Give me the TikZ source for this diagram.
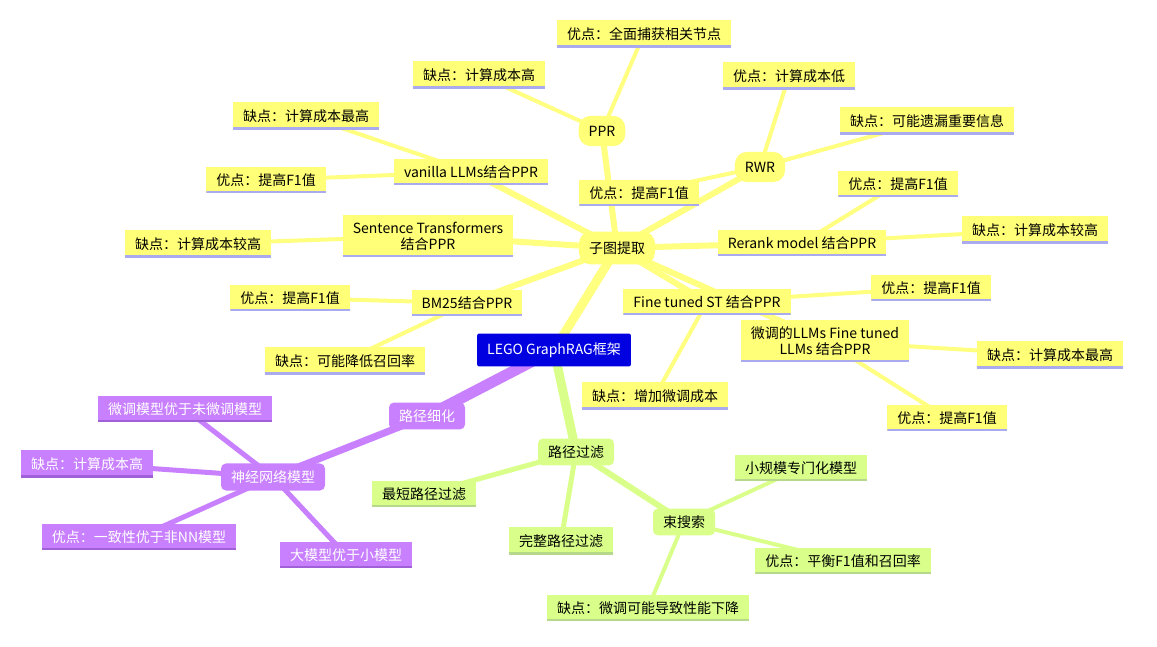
\documentclass[tikz,border=0pt]{standalone}
\usepackage{fontspec}
\setmainfont{Noto Sans CJK SC}
\usetikzlibrary{backgrounds}
\definecolor{yel}{HTML}{FFFF78}
\definecolor{yline}{HTML}{FFFF80}
\definecolor{ybot}{HTML}{AAAAEE}
\definecolor{grn}{HTML}{D9FF8A}
\definecolor{gbot}{HTML}{B5D88A}
\definecolor{pur}{HTML}{C880FF}
\definecolor{pbot}{HTML}{A060D8}
\definecolor{rootc}{HTML}{0000E0}
\tikzset{
  base/.style={font=\fontsize{14}{16}\selectfont, inner xsep=10pt, inner ysep=7pt, align=center},
  yleaf/.style={base, fill=yel, path picture={\fill[ybot] ([yshift=2.5pt]path picture bounding box.south west) rectangle (path picture bounding box.south east);}},
  gleaf/.style={base, fill=grn, path picture={\fill[gbot] ([yshift=2.5pt]path picture bounding box.south west) rectangle (path picture bounding box.south east);}},
  pleaf/.style={base, fill=pur, text=white, path picture={\fill[pbot] ([yshift=2.5pt]path picture bounding box.south west) rectangle (path picture bounding box.south east);}},
  ypill/.style={base, fill=yel, rounded corners=12pt, inner ysep=10pt},
  gpill/.style={base, fill=grn, rounded corners=5pt},
  ppill/.style={base, fill=pur, text=white, rounded corners=5pt},
  yl/.style={draw=yline, line width=#1},
  gl/.style={draw=grn, line width=#1},
  pl/.style={draw=pur, line width=#1},
}
\begin{document}
\begin{tikzpicture}[x=1pt,y=-1pt]
\useasboundingbox (0,0) rectangle (1157,647);
\node[base, fill=rootc, text=white, rounded corners=2pt, inner ysep=9pt] (root) at (554,350) {LEGO GraphRAG框架};
% yellow
\node[ypill] (sub) at (617,248) {子图提取};
\node[ypill] (ppr) at (602,131) {PPR};
\node[yleaf] (p1) at (644,34) {优点：全面捕获相关节点};
\node[yleaf] (p2) at (479,75) {缺点：计算成本高};
\node[ypill] (rwr) at (760,167) {RWR};
\node[yleaf] (r1) at (789,76) {优点：计算成本低};
\node[yleaf] (r2) at (927,121) {缺点：可能遗漏重要信息};
\node[yleaf] (r3) at (639,193) {优点：提高F1值};
\node[yleaf] (va) at (471,172) {vanilla LLMs结合PPR};
\node[yleaf] (va1) at (306,116) {缺点：计算成本最高};
\node[yleaf] (va2) at (266,180) {优点：提高F1值};
\node[yleaf] (st) at (428,236) {Sentence Transformers\\结合PPR};
\node[yleaf] (st1) at (198,244) {缺点：计算成本较高};
\node[yleaf] (bm) at (467,303) {BM25结合PPR};
\node[yleaf] (bm1) at (290,298) {优点：提高F1值};
\node[yleaf] (bm2) at (345,361) {缺点：可能降低召回率};
\node[yleaf] (rr) at (802,243) {Rerank model 结合PPR};
\node[yleaf] (rr1) at (898,184) {优点：提高F1值};
\node[yleaf] (rr2) at (1035,230) {缺点：计算成本较高};
\node[yleaf] (ft) at (707,302) {Fine tuned ST 结合PPR};
\node[yleaf] (ft1) at (931,288) {优点：提高F1值};
\node[yleaf] (ft2) at (655,396) {缺点：增加微调成本};
\node[yleaf] (fl) at (825,341) {微调的LLMs Fine tuned\\LLMs 结合PPR};
\node[yleaf] (fl1) at (1050,355) {缺点：计算成本最高};
\node[yleaf] (fl2) at (947,418) {优点：提高F1值};
% green
\node[gpill] (pf) at (576,452) {路径过滤};
\node[gleaf] (pf1) at (424,494) {最短路径过滤};
\node[gleaf] (pf2) at (561,541) {完整路径过滤};
\node[gpill] (bs) at (684,522) {束搜索};
\node[gleaf] (bs1) at (801,468) {小规模专门化模型};
\node[gleaf] (bs2) at (843,561) {优点：平衡F1值和召回率};
\node[gleaf] (bs3) at (648,608) {缺点：微调可能导致性能下降};
% purple
\node[ppill] (pr) at (427,416) {路径细化};
\node[ppill] (nn) at (273,477) {神经网络模型};
\node[pleaf] (nn1) at (185,409) {微调模型优于未微调模型};
\node[pleaf] (nn2) at (87,464) {缺点：计算成本高};
\node[pleaf] (nn3) at (139,537) {优点：一致性优于非NN模型};
\node[pleaf] (nn4) at (346,555) {大模型优于小模型};
\begin{scope}[on background layer]
\draw[yl=9pt] (root.center) -- (sub.center);
\draw[yl=6pt] (sub.center) -- (ppr.center);
\draw[yl=4pt] (ppr.center) -- (p1.center);
\draw[yl=4pt] (ppr.center) -- (p2.center);
\draw[yl=6pt] (sub.center) -- (rwr.center);
\draw[yl=4pt] (rwr.center) -- (r1.center);
\draw[yl=4pt] (rwr.center) -- (r2.center);
\draw[yl=4pt] (rwr.center) -- (r3.center);
\draw[yl=6pt] (sub.center) -- (va.center);
\draw[yl=4pt] (va.center) -- (va1.center);
\draw[yl=4pt] (va.center) -- (va2.center);
\draw[yl=6pt] (sub.center) -- (st.center);
\draw[yl=4pt] (st.center) -- (st1.center);
\draw[yl=6pt] (sub.center) -- (bm.center);
\draw[yl=4pt] (bm.center) -- (bm1.center);
\draw[yl=4pt] (bm.center) -- (bm2.center);
\draw[yl=6pt] (sub.center) -- (rr.center);
\draw[yl=4pt] (rr.center) -- (rr1.center);
\draw[yl=4pt] (rr.center) -- (rr2.center);
\draw[yl=6pt] (sub.center) -- (ft.center);
\draw[yl=4pt] (ft.center) -- (ft1.center);
\draw[yl=4pt] (ft.center) -- (ft2.center);
\draw[yl=6pt] (sub.center) -- (fl.center);
\draw[yl=4pt] (fl.center) -- (fl1.center);
\draw[yl=4pt] (fl.center) -- (fl2.center);
\draw[gl=9pt] (root.center) -- (pf.center);
\draw[gl=5pt] (pf.center) -- (pf1.center);
\draw[gl=5pt] (pf.center) -- (pf2.center);
\draw[gl=6pt] (pf.center) -- (bs.center);
\draw[gl=4pt] (bs.center) -- (bs1.center);
\draw[gl=4pt] (bs.center) -- (bs2.center);
\draw[gl=4pt] (bs.center) -- (bs3.center);
\draw[pl=11pt] (root.center) -- (pr.center);
\draw[pl=7pt] (pr.center) -- (nn.center);
\draw[pl=5pt] (nn.center) -- (nn1.center);
\draw[pl=5pt] (nn.center) -- (nn2.center);
\draw[pl=5pt] (nn.center) -- (nn3.center);
\draw[pl=5pt] (nn.center) -- (nn4.center);
\end{scope}
\end{tikzpicture}
\end{document}
